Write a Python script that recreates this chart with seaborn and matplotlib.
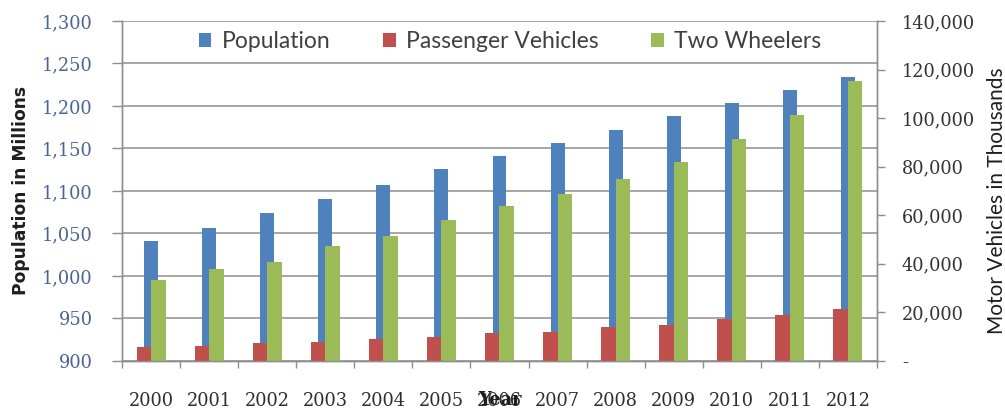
import matplotlib
matplotlib.use("Agg")
import matplotlib.pyplot as plt
from matplotlib.patches import Patch
from matplotlib.ticker import FuncFormatter, FixedLocator
import numpy as np
import pandas as pd
import seaborn as sns

# ---- data -------------------------------------------------------------
years = ["2000", "2001", "2002", "2003", "2004", "2005", "2006",
         "2007", "2008", "2009", "2010", "2011", "2012"]
population_millions = [1041, 1057, 1074, 1091, 1107, 1126, 1141,
                       1156, 1172, 1188, 1203, 1219, 1234]
passenger_vehicles_k = [5700, 6100, 7300, 7800, 9000, 9800, 11400,
                        11800, 13900, 14700, 17100, 18800, 21200]
two_wheelers_k = [33500, 38000, 40800, 47300, 51400, 58000, 63700,
                  68600, 75100, 82000, 91400, 101200, 115100]

series_names = ["Population", "Passenger Vehicles", "Two Wheelers"]
left_ticks = [900, 950, 1000, 1050, 1100, 1150, 1200, 1250, 1300]
right_ticks = [0, 20000, 40000, 60000, 80000, 100000, 120000, 140000]

BLUE, RED, GREEN = "#4F81BD", "#C0504D", "#9BBB59"
GRID = "#8E8E8E"

# ---- figure -------------------------------------------------------------
sns.set_theme(style="white")
plt.rcParams["font.family"] = ["DejaVu Sans"]

fig = plt.figure(figsize=(10.05, 4.09), dpi=100)
ax = fig.add_axes([0.1214, 0.1174, 0.7512, 0.8313])
ax2 = ax.twinx()

pop_df = pd.DataFrame({"Year": years, "Population": population_millions})
veh_df = pd.DataFrame({
    "Year": years * 2,
    "Series": [series_names[1]] * len(years) + [series_names[2]] * len(years),
    "Value": passenger_vehicles_k + two_wheelers_k,
})

sns.barplot(data=pop_df, x="Year", y="Population", color=BLUE,
            width=0.24, saturation=1, ax=ax)
sns.barplot(data=veh_df, x="Year", y="Value", hue="Series",
            palette=[RED, GREEN], width=0.5, saturation=1,
            dodge=True, legend=False, ax=ax2)

for b in list(ax.patches) + list(ax2.patches):
    b.set_edgecolor("none")

# ---- axes limits / grid ----------------------------------------------------
ax.set_xlim(-0.5, len(years) - 0.5)
ax.set_ylim(900, 1300)
ax2.set_ylim(0, 140000)

ax.set_yticks(left_ticks)
ax.yaxis.set_major_formatter(FuncFormatter(lambda v, p: f"{int(v):,}"))
ax2.set_yticks(right_ticks)
ax2.yaxis.set_major_formatter(
    FuncFormatter(lambda v, p: "-" if v == 0 else f"{int(v):,}"))

ax.grid(axis="y", color=GRID, linewidth=1.1)
ax.grid(axis="x", visible=False)
ax2.grid(False)
ax.set_axisbelow(True)

for a in (ax, ax2):
    for side in ("left", "bottom", "right"):
        a.spines[side].set_visible(True)
        a.spines[side].set_color(GRID)
        a.spines[side].set_linewidth(1.0)
    a.spines["top"].set_visible(False)

# category boundary ticks on the x axis
ax.xaxis.set_minor_locator(FixedLocator(np.arange(-0.5, len(years), 1.0)))
ax.tick_params(axis="x", which="major", length=0, pad=22,
               labelsize=12.8, labelcolor="#2E2E2E")
ax.tick_params(axis="x", which="minor", length=5, width=1, color=GRID,
               direction="out", bottom=True)
for t in ax.get_xticklabels():
    t.set_fontfamily("DejaVu Serif")

ax.tick_params(axis="y", which="major", left=True, length=7, width=1,
               color=GRID, direction="out", pad=14,
               labelsize=12.8, labelcolor="#4A6496")
ax2.tick_params(axis="y", which="major", right=True, length=6, width=1,
                color=GRID, direction="out", pad=12,
                labelsize=12.8, labelcolor="#333333")
for t in ax.get_yticklabels() + ax2.get_yticklabels():
    t.set_fontfamily("DejaVu Serif")

# ---- axis titles ------------------------------------------------------------
ax.set_xlabel("Year", fontsize=12.8, fontweight="bold", color="#1E1E1E",
              fontfamily="DejaVu Serif")
ax.xaxis.set_label_coords(0.5, -0.088)
ax.set_ylabel("Population in Millions", fontsize=12.3, fontweight="bold",
              color="#1E1E1E")
ax.yaxis.set_label_coords(-0.122, 0.5)
ax2.set_ylabel("Motor Vehicles in Thousands", fontsize=15, color="#1E1E1E",
               fontfamily="Lato")
ax2.yaxis.set_label_coords(1.1457, 0.47)

# ---- legend -----------------------------------------------------------------
handles = [Patch(facecolor=c, edgecolor="none") for c in (BLUE, RED, GREEN)]
fig.legend(handles, series_names, loc="center",
           bbox_to_anchor=(510 / 1005, 1 - 42 / 409), ncol=3, frameon=False,
           prop={"family": "Lato", "size": 16.5}, labelcolor="#404040",
           handlelength=0.55, handleheight=0.55, handletextpad=0.45,
           columnspacing=2.3)

fig.savefig("out.png", dpi=100, facecolor="white")
